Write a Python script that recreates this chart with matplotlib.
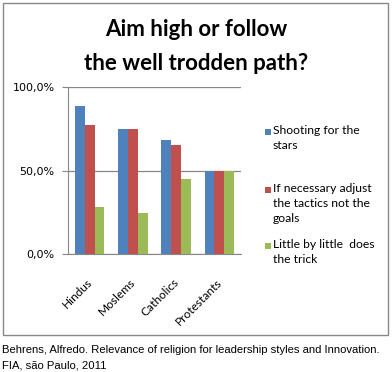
import matplotlib
matplotlib.use("Agg")
import matplotlib.pyplot as plt
from matplotlib.patches import Rectangle
from matplotlib.ticker import FuncFormatter
from matplotlib.transforms import ScaledTranslation
import numpy as np

categories = ["Hindus", "Moslems", "Catholics", "Protestants"]
series_names = ["Shooting for the\nstars",
                "If necessary adjust\nthe tactics not the\ngoals",
                "Little by little  does\nthe trick"]
shooting = [88.6, 75.0, 68.3, 50.0]
adjust = [77.2, 75.0, 65.3, 50.0]
little = [28.0, 24.5, 45.0, 50.0]
colors = ["#4F81BD", "#C0504D", "#9BBB59"]
yticks = [0, 50, 100]
title_lines = ["Aim high or follow", "the well trodden path?"]
caption_lines = ["Behrens, Alfredo. Relevance of religion for leadership styles and Innovation.",
                 "FIA, são Paulo, 2011"]

W, H = 392, 372
fig = plt.figure(figsize=(W / 100, H / 100), dpi=100)
fig.patch.set_facecolor("white")

# outer border
fig.patches.append(Rectangle((3 / W, 1 - 335 / H), 385 / W, 332 / H,
                             transform=fig.transFigure, fill=False,
                             edgecolor="#878787", linewidth=1.0))

ax = fig.add_axes([68 / W, 1 - 254 / H, 173 / W, 167 / H])
x = np.arange(len(categories))
bw = 0.227
series = [shooting, adjust, little]
for i, (vals, c) in enumerate(zip(series, colors)):
    ax.bar(x + (i - 1) * bw, vals, width=bw, color=c, label=series_names[i], zorder=3)

ax.set_xlim(-0.5, len(categories) - 0.5)
ax.set_ylim(0, 100)
ax.set_yticks(yticks)
ax.yaxis.set_major_formatter(FuncFormatter(lambda v, p: f"{v:.1f}%".replace(".", ",")))
ax.tick_params(axis="y", labelsize=8, length=4.5, color="#878787", pad=5)
ax.tick_params(axis="x", length=0, pad=19)
for lab in ax.get_yticklabels():
    lab.set_family("DejaVu Sans")
ax.grid(axis="y", color="#878787", linewidth=0.9, zorder=0)
for s in ["top", "right"]:
    ax.spines[s].set_visible(False)
ax.spines["left"].set_color("#878787")
ax.spines["bottom"].set_color("#878787")
ax.set_xticks(x)
ax.set_xticklabels(categories, rotation=45, ha="right", va="center",
                   rotation_mode="anchor", fontsize=8.6, family="Lato")
off = ScaledTranslation(1 / 100, 0, fig.dpi_scale_trans)
for lab in ax.get_xticklabels():
    lab.set_transform(lab.get_transform() + off)

fig.text(196 / W, 1 - 29 / H, title_lines[0], ha="center", va="center", fontsize=16,
         fontweight="bold", family="Lato")
fig.text(196 / W, 1 - 63 / H, title_lines[1], ha="center", va="center", fontsize=16,
         fontweight="bold", family="Lato")

# legend (manual, marker aligned with first line as in the reference)
leg_y = [132, 190, 246]
for name, c, yy in zip(series_names, colors, leg_y):
    fig.patches.append(Rectangle((265 / W, 1 - (yy + 3) / H), 6 / W, 6 / H,
                                 transform=fig.transFigure, facecolor=c,
                                 edgecolor="none"))
    fig.text(273 / W, 1 - (yy - 7) / H, name, ha="left", va="top", fontsize=8.7,
             family="Lato", linespacing=1.45)

fig.text(2 / W, 1 - 350 / H, caption_lines[0], ha="left", va="center", fontsize=8.1,
         family="Liberation Sans")
fig.text(2 / W, 1 - 365 / H, caption_lines[1], ha="left", va="center", fontsize=8.1,
         family="Liberation Sans")

fig.savefig("out.png", dpi=100)
